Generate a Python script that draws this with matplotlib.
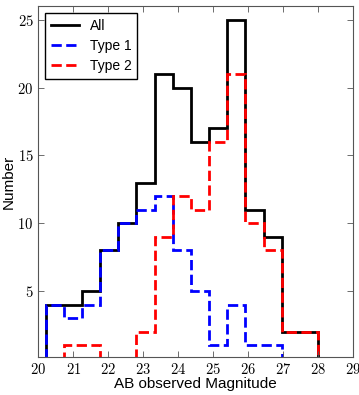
import numpy as np
from matplotlib import pyplot as plt
from matplotlib.ticker import FuncFormatter

plt.rcParams['mathtext.fontset'] = 'cm'
plt.rcParams['font.family'] = ['Liberation Sans', 'DejaVu Sans']

# Histogram data
bin_edges = [20.21, 20.73, 21.25, 21.77, 22.29, 22.81, 23.33, 23.85,
             24.37, 24.89, 25.41, 25.93, 26.45, 26.97, 27.49, 28.01]
all_counts = [4, 4, 5, 8, 10, 13, 21, 20, 16, 17, 25, 11, 9, 2, 2]
type1_counts = [4, 3, 4, 8, 10, 11, 12, 8, 5, 1, 4, 1, 1, 0, 0]
type2_counts = [0, 1, 1, 0, 0, 2, 9, 12, 11, 16, 21, 10, 8, 2, 2]

fig = plt.figure(figsize=(3.59, 3.95), dpi=100)
ax = fig.add_axes([0.107, 0.097, 0.875, 0.887])

ax.stairs(all_counts, bin_edges, color='k', lw=2, label='All')
ax.stairs(type1_counts, bin_edges, color='b', lw=2, ls='--', label='Type 1')
ax.stairs(type2_counts, bin_edges, color='r', lw=2, ls='--', label='Type 2')

ax.set_xlim(20, 29)
ax.set_ylim(0.15, 26)
ax.set_xticks(range(20, 30))
ax.set_yticks([5, 10, 15, 20, 25])
fmt = FuncFormatter(lambda v, p: r'$%d$' % v)
ax.xaxis.set_major_formatter(fmt)
ax.yaxis.set_major_formatter(fmt)
ax.tick_params(direction='in', top=True, right=True, labelsize=10.5, length=4, width=0.6, color='#555555')
for s in ax.spines.values():
    s.set_color('#555555')

ax.set_xlabel('AB observed Magnitude', fontsize=11, labelpad=0)
ax.set_ylabel('Number', fontsize=11, labelpad=1)

leg = ax.legend(loc='upper left', fontsize=10, fancybox=False, framealpha=1,
                handlelength=2.0, borderaxespad=0.5, labelspacing=0.45)
leg.get_frame().set_edgecolor('k')

plt.savefig('out.png', dpi=100)
